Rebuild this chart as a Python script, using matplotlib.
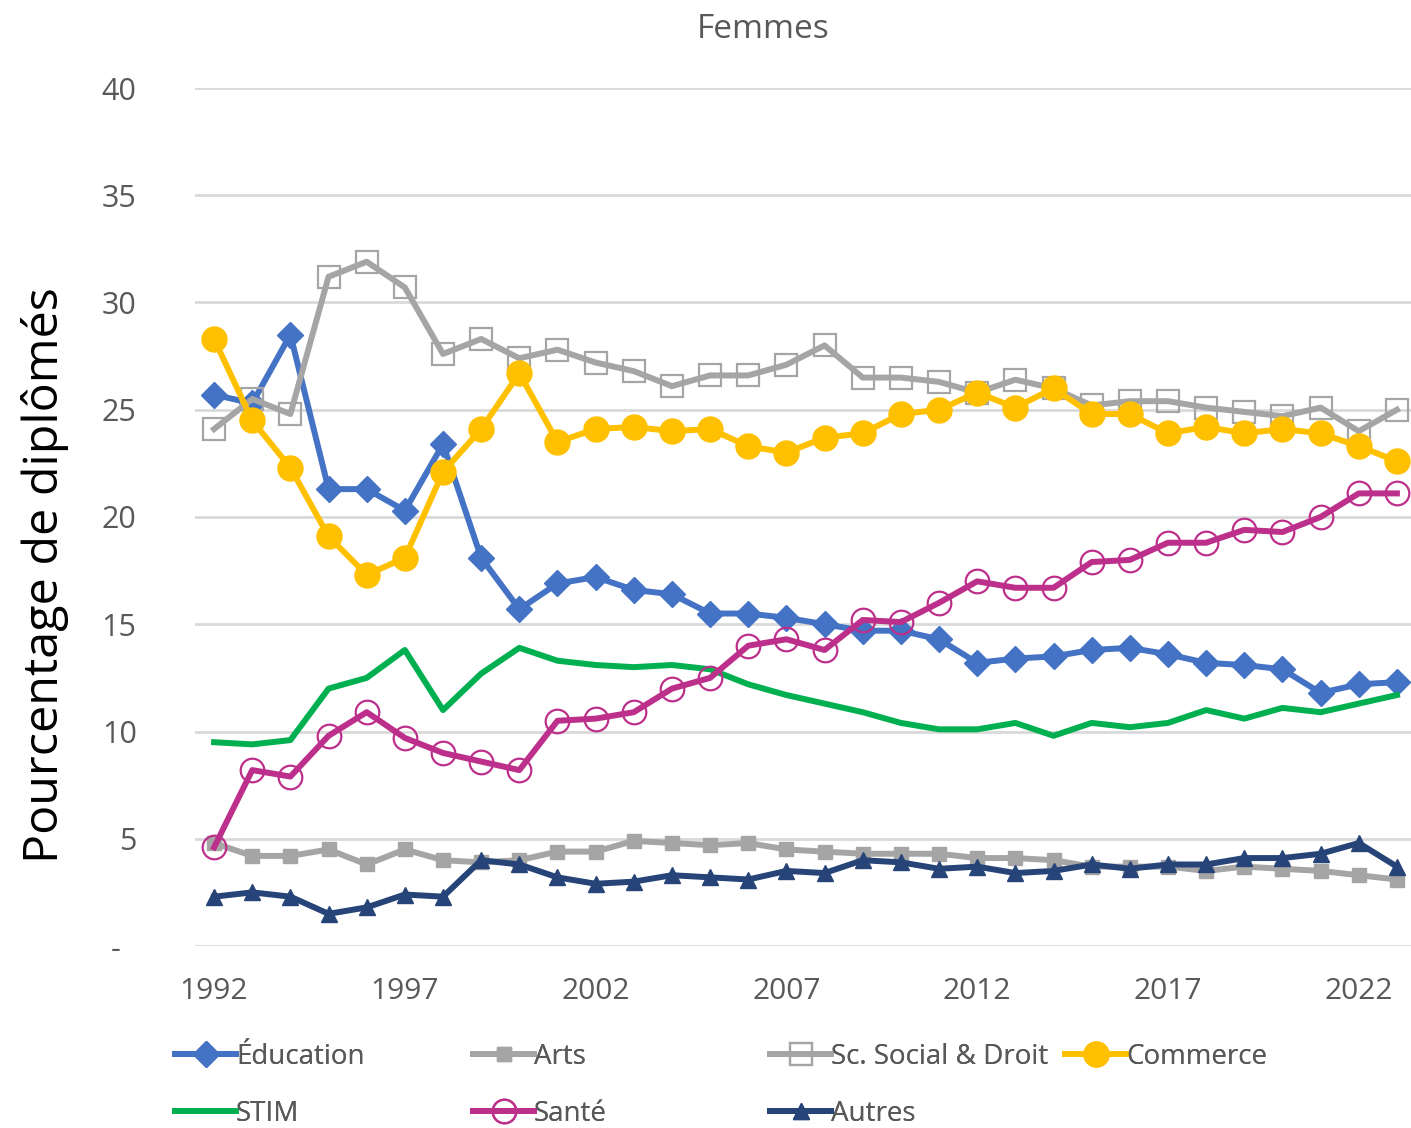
import numpy as np
import matplotlib
matplotlib.use("Agg")
import matplotlib.pyplot as plt
from matplotlib.lines import Line2D

plt.rcParams['font.family'] = ['Open Sans', 'DejaVu Sans']

# --- data ---
years = list(range(1992, 2024))

education = [25.7, 25.3, 28.5, 21.3, 21.3, 20.3, 23.4, 18.1, 15.7, 16.9, 17.2, 16.6,
             16.4, 15.5, 15.5, 15.3, 15.0, 14.7, 14.7, 14.3, 13.2, 13.4, 13.5, 13.8,
             13.9, 13.6, 13.2, 13.1, 12.9, 11.8, 12.2, 12.3]
arts = [4.8, 4.2, 4.2, 4.5, 3.8, 4.5, 4.0, 3.9, 4.0, 4.4, 4.4, 4.9,
        4.8, 4.7, 4.8, 4.5, 4.4, 4.3, 4.3, 4.3, 4.1, 4.1, 4.0, 3.7,
        3.7, 3.7, 3.5, 3.7, 3.6, 3.5, 3.3, 3.1]
social_droit = [24.1, 25.5, 24.8, 31.2, 31.9, 30.7, 27.6, 28.3, 27.4, 27.8, 27.2, 26.8,
                26.1, 26.6, 26.6, 27.1, 28.0, 26.5, 26.5, 26.3, 25.8, 26.4, 26.0, 25.2,
                25.4, 25.4, 25.1, 24.9, 24.7, 25.1, 24.0, 25.0]
commerce = [28.3, 24.5, 22.3, 19.1, 17.3, 18.1, 22.1, 24.1, 26.7, 23.5, 24.1, 24.2,
            24.0, 24.1, 23.3, 23.0, 23.7, 23.9, 24.8, 25.0, 25.8, 25.1, 26.0, 24.8,
            24.8, 23.9, 24.2, 23.9, 24.1, 23.9, 23.3, 22.6]
stim = [9.5, 9.4, 9.6, 12.0, 12.5, 13.8, 11.0, 12.7, 13.9, 13.3, 13.1, 13.0,
        13.1, 12.9, 12.2, 11.7, 11.3, 10.9, 10.4, 10.1, 10.1, 10.4, 9.8, 10.4,
        10.2, 10.4, 11.0, 10.6, 11.1, 10.9, 11.3, 11.7]
sante = [4.6, 8.2, 7.9, 9.8, 10.9, 9.7, 9.0, 8.6, 8.2, 10.5, 10.6, 10.9,
         12.0, 12.5, 14.0, 14.3, 13.8, 15.2, 15.1, 16.0, 17.0, 16.7, 16.7, 17.9,
         18.0, 18.8, 18.8, 19.4, 19.3, 20.0, 21.1, 21.1]
autres = [2.3, 2.5, 2.3, 1.5, 1.8, 2.4, 2.3, 4.0, 3.8, 3.2, 2.9, 3.0,
          3.3, 3.2, 3.1, 3.5, 3.4, 4.0, 3.9, 3.6, 3.7, 3.4, 3.5, 3.8,
          3.6, 3.8, 3.8, 4.1, 4.1, 4.3, 4.8, 3.7]

xtick_years = [1992, 1997, 2002, 2007, 2012, 2017, 2022]
yticks = [0, 5, 10, 15, 20, 25, 30, 35, 40]
ytick_labels = ['-  ', '5', '10', '15', '20', '25', '30', '35', '40']

TEXT_GREY = '#595959'
LW = 4.3

fig = plt.figure(figsize=(14.11, 11.28), dpi=100)
ax = fig.add_axes([195 / 1411, 182 / 1128, 1221 / 1411, 858 / 1128])

styles = {
    'Éducation': dict(color='#4472C4', marker='D', ms=13),
    'Arts': dict(color='#A5A5A5', marker='s', ms=10),
    'Sc. Social & Droit': dict(color='#A5A5A5', marker='s', ms=16, mfc='none',
                               mec='#A5A5A5', mew=1.6),
    'Commerce': dict(color='#FFC000', marker='o', ms=18),
    'STIM': dict(color='#00B050'),
    'Santé': dict(color='#BC2F8A', marker='o', ms=17, mfc='none',
                  mec='#BC2F8A', mew=1.6),
    'Autres': dict(color='#264478', marker='^', ms=11),
}
series = {
    'Éducation': education,
    'Arts': arts,
    'Sc. Social & Droit': social_droit,
    'Commerce': commerce,
    'STIM': stim,
    'Santé': sante,
    'Autres': autres,
}

for name, vals in series.items():
    ax.plot(years, vals, lw=LW, solid_joinstyle='round', **styles[name])

ax.set_xlim(1991.5, 2023.5)
ax.set_ylim(0, 40)
ax.set_yticks(yticks)
ax.set_yticklabels(ytick_labels)
ax.set_xticks(xtick_years)
ax.set_xticklabels([str(y) for y in xtick_years])
ax.tick_params(axis='y', length=0, pad=42, labelsize=22, labelcolor=TEXT_GREY)
ax.tick_params(axis='x', length=0, pad=22, labelsize=21.5, labelcolor=TEXT_GREY)
ax.grid(axis='y', color='#D9D9D9', lw=2)
ax.set_axisbelow(True)
for s in ax.spines.values():
    s.set_visible(False)

fig.text(763 / 1411, 1 - 29 / 1128, 'Femmes', ha='center', va='center',
         fontsize=24, color=TEXT_GREY)
fig.text(45 / 1411, 1 - 575 / 1128, 'Pourcentage de diplômés', rotation=90,
         ha='center', va='center', fontsize=34.8, color='black')

# legend laid out as four fixed-width columns, like the Excel one
columns = [['Éducation', 'STIM'], ['Arts', 'Santé'],
           ['Sc. Social & Droit', 'Autres'], ['Commerce']]
col_x = [175, 473, 770, 1065]
for names, x in zip(columns, col_x):
    hs = [Line2D([], [], lw=LW, **styles[n]) for n in names]
    leg = fig.legend(hs, names, loc='upper left',
                     bbox_to_anchor=(x / 1411, 1 - 1043 / 1128),
                     frameon=False, fontsize=20, handlelength=2.2,
                     handletextpad=0.0, borderpad=0, borderaxespad=0,
                     labelspacing=1.04, labelcolor=TEXT_GREY)
    fig.add_artist(leg)

fig.savefig('out.png', dpi=100)
